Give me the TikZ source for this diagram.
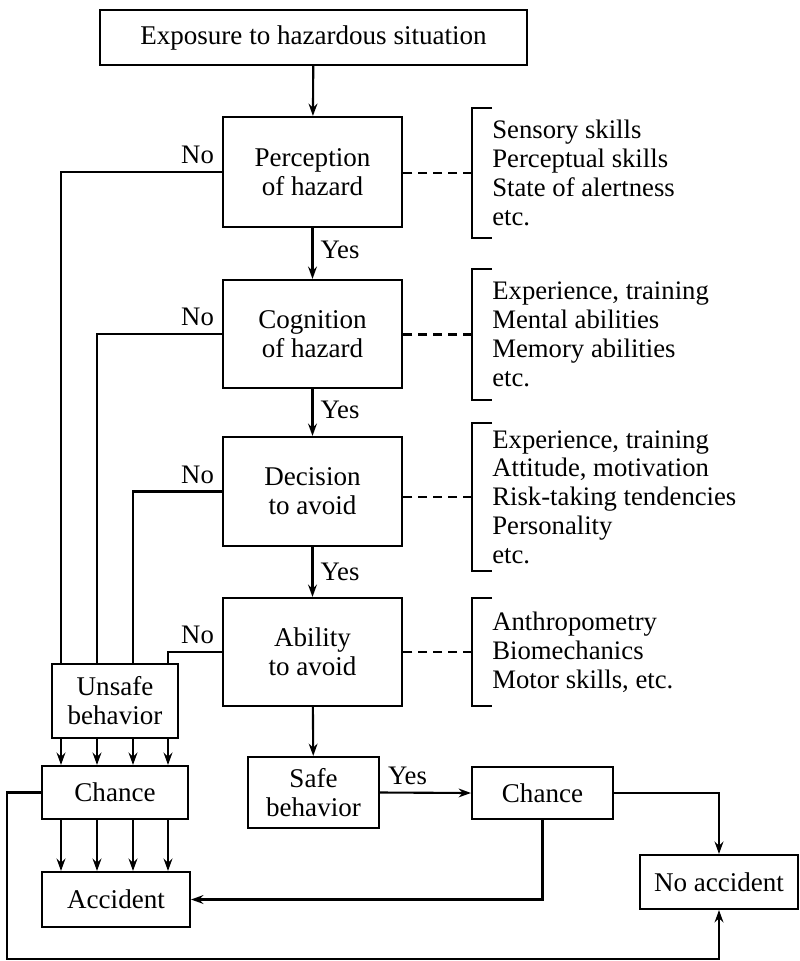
\documentclass[tikz,border=0pt]{standalone}
\usepackage{fontspec}
\setmainfont{Liberation Serif}
\usetikzlibrary{arrows.meta,positioning,calc}

\begin{document}
\begin{tikzpicture}[
    x=0.02cm, y=-0.02cm,
    box/.style={draw, line width=1.2pt, align=center, inner sep=0pt, font=\fontsize{15.4}{16.4}\selectfont},
    note/.style={anchor=west, align=left, inner xsep=0.4cm, inner ysep=0pt, font=\fontsize{15.2}{16.4}\selectfont},
    tag/.style={inner sep=4pt, font=\fontsize{15.2}{16.4}\selectfont},
    link/.style={line width=1.2pt},
    arrow/.style={-{Stealth[length=7pt,width=5pt]}, line width=1.2pt}
]
\useasboundingbox (0,0) rectangle (800,961);

% main chain
\node[box, minimum width=8.54cm, minimum height=1.1cm] (expo) at (313.5,37.5) {Exposure to hazardous situation};
\node[box, minimum width=3.58cm, minimum height=2.2cm] (perc) at (312.5,172) {Perception\\of hazard};
\node[box, minimum width=3.58cm, minimum height=2.16cm] (cog) at (312.5,334) {Cognition\\of hazard};
\node[box, minimum width=3.58cm, minimum height=2.18cm] (dec) at (312.5,491.5) {Decision\\to avoid};
\node[box, minimum width=3.58cm, minimum height=2.16cm] (abil) at (312.5,652) {Ability\\to avoid};

% outcomes
\node[box, minimum width=2.52cm, minimum height=1.48cm] (unsafe) at (115,701) {Unsafe\\behavior};
\node[box, minimum width=2.92cm, minimum height=1.06cm] (chanceL) at (115,792.5) {Chance};
\node[box, minimum width=2.96cm, minimum height=1.1cm] (acc) at (116,899.5) {Accident};
\node[box, minimum width=2.62cm, minimum height=1.42cm] (safe) at (313.5,792.5) {Safe\\behavior};
\node[box, minimum width=2.82cm, minimum height=1.04cm] (chanceR) at (542.5,793) {Chance};
\node[box, minimum width=3.16cm, minimum height=1.08cm] (noacc) at (719,882) {No accident};

% factor lists
\node[note, minimum height=2.6cm] (f1) at (472,173) {Sensory skills\\Perceptual skills\\State of alertness\\etc.};
\node[note, minimum height=2.62cm] (f2) at (472,334.5) {Experience, training\\Mental abilities\\Memory abilities\\etc.};
\node[note, minimum height=2.96cm] (f3) at (472,497) {Experience, training\\Attitude, motivation\\Risk-taking tendencies\\Personality\\etc.};
\node[note, minimum height=2.16cm] (f4) at (472,652) {Anthropometry\\Biomechanics\\Motor skills, etc.};

\coordinate (lane1) at (61,0);
\coordinate (lane2) at (97,0);
\coordinate (lane3) at (133,0);
\coordinate (lane4) at (168,0);
\coordinate (loop) at (7,959);

\draw[arrow] (expo) -- (perc);
\draw[arrow] (perc) -- (cog) node[tag, pos=0.42, right] {Yes};
\draw[arrow] (cog) -- (dec) node[tag, pos=0.45, right] {Yes};
\draw[arrow] (dec) -- (abil) node[tag, pos=0.5, right] {Yes};
\draw[arrow] (abil) -- (safe);

% "No" branches
\draw[link] (perc.west) -| (unsafe.north -| lane1) node[tag, pos=0, anchor=south east] {No};
\draw[link] (cog.west) -| (unsafe.north -| lane2) node[tag, pos=0, anchor=south east] {No};
\draw[link] (dec.west) -| (unsafe.north -| lane3) node[tag, pos=0, anchor=south east] {No};
\draw[link] (abil.west) -| (unsafe.north -| lane4) node[tag, pos=0, anchor=south east] {No};

\foreach \l in {lane1,lane2,lane3,lane4} {
  \draw[arrow] (unsafe.south -| \l) -- (chanceL.north -| \l);
  \draw[arrow] (chanceL.south -| \l) -- (acc.north -| \l);
}

\draw[arrow] (chanceL.west) -| (loop) -| (noacc.south);
\draw[arrow] (safe.east) -- (chanceR.west) node[tag, pos=0, anchor=south west] {Yes};
\draw[arrow] (chanceR.east) -| (noacc.north);
\draw[arrow] (chanceR.south) |- (acc.east);

% brackets
\foreach \f/\b in {f1/perc,f2/cog,f3/dec,f4/abil} {
  \draw[link, dash pattern=on 5pt off 3.5pt] (\f.west) -- (\f.west -| \b.east);
  \draw[link] ($(\f.north west)+(20,0)$) -- (\f.north west) -- (\f.south west) -- ++(20,0);
}
\end{tikzpicture}
\end{document}
